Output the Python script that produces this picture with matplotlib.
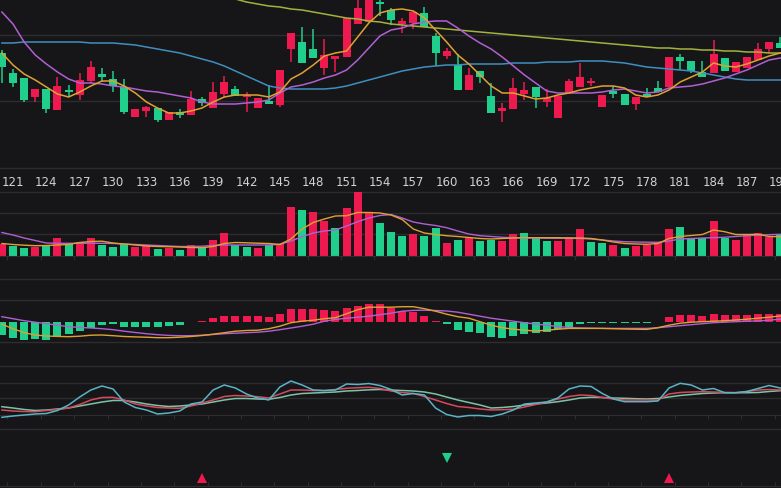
import numpy as np
import matplotlib
matplotlib.use('Agg')
import matplotlib.pyplot as plt

# candle index shown on the x axis (120 is half cut at the left edge)
idx = np.arange(120, 191)

# OHLC (arbitrary price units, no price axis shown)
opens = [115, 95, 90, 71, 79, 58, 78, 73, 87, 94,
         89, 81, 51, 57, 60, 48, 56, 53, 69, 60,
         74, 79, 71, 60, 67, 63, 119, 126, 119, 100,
         109, 111, 144, 146, 166, 158, 144, 145, 155, 132,
         112, 103, 78, 97, 72, 57, 59, 74, 81, 66,
         50, 75, 81, 85, 61, 77, 74, 64, 74, 80,
         81, 111, 107, 96, 95, 110, 96, 100, 108, 119,
         125]
closes = [101, 85, 68, 79, 59, 82, 76, 88, 101, 91,
          82, 56, 59, 61, 48, 56, 53, 69, 65, 76,
          86, 72, 73, 70, 64, 98, 135, 105, 110, 113,
          112, 150, 160, 173, 164, 148, 147, 156, 141, 115,
          117, 78, 93, 91, 55, 60, 80, 78, 71, 70,
          72, 87, 91, 87, 73, 74, 63, 71, 71, 76,
          111, 107, 97, 91, 114, 97, 106, 111, 119, 126,
          120]
highs = [118, 99, 90, 79, 79, 91, 83, 95, 107, 100,
         97, 89, 59, 62, 60, 56, 59, 77, 71, 86,
         92, 82, 76, 70, 83, 98, 135, 141, 139, 129,
         112, 150, 170, 178, 170, 160, 150, 156, 161, 135,
         120, 114, 100, 97, 85, 65, 90, 86, 81, 79,
         72, 89, 105, 90, 73, 82, 74, 71, 80, 87,
         111, 114, 107, 107, 128, 110, 106, 111, 125, 126,
         131]
lows = [85, 81, 66, 66, 55, 58, 71, 68, 85, 86,
        76, 54, 51, 51, 46, 48, 50, 53, 62, 60,
        71, 72, 56, 60, 64, 61, 106, 105, 110, 93,
        96, 111, 144, 146, 152, 143, 135, 139, 141, 102,
        109, 78, 78, 85, 55, 46, 59, 68, 60, 61,
        50, 75, 81, 82, 61, 70, 63, 58, 71, 76,
        81, 98, 95, 91, 95, 97, 96, 100, 108, 115,
        120]

ma5 = [115, 103, 94, 88, 81, 74, 71, 76, 82, 87,
       87, 82, 75, 66, 60, 55, 55, 57, 60, 66,
       71, 73, 73, 73, 71, 76, 89, 95, 103, 112,
       115, 117, 131, 145, 155, 158, 159, 157, 150, 138,
       126, 113, 104, 93, 82, 75, 75, 72, 69, 70,
       73, 75, 78, 80, 82, 82, 80, 73, 71, 73,
       78, 86, 91, 96, 105, 102, 101, 104, 108, 112,
       115]
ma10 = [156, 144, 126, 113, 104, 96, 89, 85, 85, 84,
        82, 81, 79, 77, 76, 74, 72, 70, 66, 64,
        64, 64, 65, 66, 68, 75, 81, 83, 86, 90,
        93, 98, 108, 120, 132, 138, 140, 144, 146, 147,
        147, 140, 132, 125, 119, 111, 102, 93, 85, 77,
        75, 75, 75, 75, 76, 78, 79, 77, 75, 76,
        80, 81, 82, 84, 87, 90, 94, 98, 103, 108,
        110]
ma30 = [125, 125, 126, 126, 126, 126, 126, 126, 125, 125,
        125, 124, 123, 121, 119, 117, 115, 112, 109, 106,
        102, 97, 92, 87, 82, 80, 79, 79, 79, 79,
        80, 82, 85, 88, 91, 94, 97, 99, 101, 102,
        103, 103, 104, 104, 104, 104, 105, 105, 105, 106,
        106, 106, 107, 107, 107, 106, 105, 103, 101, 100,
        99, 98, 97, 95, 93, 91, 89, 88, 88, 88,
        88]
# long average enters the view from above at candle 140
ma60_idx = np.arange(140, 191)
ma60 = [171, 169, 166, 164, 162, 161, 159, 158, 156, 154,
        152, 150, 149, 147, 146, 144, 143, 142, 141, 140,
        139, 138, 137, 136, 135, 134, 133, 132, 131, 130,
        129, 128, 127, 126, 125, 124, 123, 122, 121, 120,
        120, 119, 119, 118, 118, 117, 117, 116, 116, 115,
        115]

volume = [12, 10.3, 7.7, 9.3, 11, 17.7, 11.7, 13.7, 18.3, 11,
          9, 11.7, 9.3, 11, 7, 8.3, 5.7, 11, 8.3, 16,
          22.7, 11, 9.3, 8.3, 11, 11.7, 49.3, 46, 43.7, 35,
          27.7, 47.7, 63.7, 42.7, 32.7, 24.3, 20.3, 21.7, 20.3, 28.3,
          12.7, 16, 18.3, 15, 16, 15, 21.7, 22.7, 18.3, 15,
          15, 19.3, 27, 13.7, 12.7, 11, 8.3, 10.3, 11, 14.3,
          27, 29.3, 18.3, 17.7, 35, 18.3, 16, 21, 22.7, 19.3,
          21.7]
vol_up = "RGGRGRGRRGGGRRGRGRGRRGGRGRRGRRGRRRGGGRGGRGRGGRRGGGRRRGGRGRRRRGGGRGRRRRG"
vol_ma5 = [12.5, 11.5, 10.8, 10.3, 10.5, 11, 11.5, 13.5, 14.5, 14.8,
           13, 12, 11, 10, 9.5, 9.3, 9, 8.5, 8.3, 9.5,
           12.5, 13.5, 13.2, 12.8, 12.5, 11.5, 17, 27, 33.5, 37,
           40, 40.3, 43.5, 43.5, 43, 41, 36.5, 27, 23, 21.5,
           20.3, 19.5, 18.5, 17.5, 17, 17.5, 18, 18.3, 18.3, 18.3,
           18.3, 18, 18, 17.5, 16, 14, 12.5, 12, 11.7, 12.5,
           17.5, 19.5, 20.5, 21.5, 26, 24.3, 21.5, 21.5, 21.7, 19.5,
           19.3]
vol_ma10 = [23.5, 21, 18, 15.5, 13, 12.7, 12.7, 12.7, 12.7, 12.7,
            12.5, 12, 11.5, 11, 10.5, 10, 9.5, 9.5, 9.8, 10.5,
            11, 11, 11, 11, 11, 11.7, 15, 19.3, 23, 25,
            26, 30, 34.3, 38, 40.5, 41.5, 38, 34, 32, 30.5,
            28.3, 25, 22, 20.3, 19.5, 18.7, 18.3, 18, 18, 17.8,
            17.7, 17.7, 17.5, 17, 16, 15, 14.3, 14, 13.8, 13.7,
            15, 17, 17.5, 18, 18.3, 18.8, 19.5, 20.3, 20.8, 21.3,
            21.7]

macd_hist = [-13.3, -16, -18.3, -17.3, -18.3, -15, -12.7, -9.3, -6, -3.3,
             -2.7, -5, -5, -5, -5, -4, -3.3, -0.7, 0.5, 3.3,
             5.7, 6, 5.7, 5.7, 5, 7.3, 12.7, 12.7, 12.7, 11.7,
             11, 14, 16, 17.7, 17.3, 13.7, 10.7, 9.3, 6, 0.5,
             -2.7, -8.3, -10.7, -11.7, -15, -16.7, -14, -12.7, -11, -10,
             -7.3, -5, -2.7, -1.7, -1.7, -1.7, -1.7, -1.7, -1, -0.3,
             4.3, 6.7, 6.7, 6, 7.3, 6.7, 6.7, 6.7, 7.3, 7.7,
             7.3]
dif = [-2.5, -7, -11, -13.3, -14.3, -14.7, -15, -14.5, -13.5, -13.3,
       -14, -14.8, -15.2, -15.5, -16, -16, -15.5, -14.8, -13.8, -12.5,
       -11, -9.5, -8.8, -8.5, -7, -4.5, -1, 0.5, 1.5, 3,
       4, 8, 12, 14.5, 14.5, 14.5, 15, 15, 13, 10.5,
       7.5, 5, 3.5, 0, -3.5, -6, -7.5, -8.5, -9.3, -8.5,
       -7.5, -6.7, -6.7, -6.7, -6.7, -7, -7.3, -7.5, -7.7, -6,
       -3.5, -1.5, -0.5, 0, 0.5, 1, 1.7, 2.5, 3.5, 4.5,
       5.7]
dea = [5, 3, 1, -0.5, -2, -3.5, -5, -5.7, -6.3, -7,
       -8, -9.5, -10.8, -12, -13, -13.7, -14, -14, -13.5, -12.8,
       -12, -11.5, -11, -10.5, -9.5, -8, -6.3, -4.5, -2.5, 0.5,
       2.3, 3.5, 4.5, 5.5, 7, 8.5, 10.5, 11.3, 11.5, 11.2,
       10.7, 9.5, 7.5, 5.5, 3.5, 2, 0.5, -1, -2.3, -3.5,
       -4.8, -5.8, -6.3, -6.5, -6.7, -6.7, -6.7, -6.7, -6.7, -6,
       -5, -4, -3, -2, -1, -0.5, 0, 0.5, 0.8, 1.5,
       2.5]

kdj_k = [19, 18, 17.5, 17.3, 18.5, 19.5, 21, 24.5, 29, 31.5,
         31.7, 29, 25, 23, 21.5, 21, 20.7, 23, 26, 29,
         32.5, 33.5, 33, 32.3, 31, 35, 39, 39, 38.5, 38.3,
         39.5, 40.7, 41.3, 41.7, 40.5, 38, 36.5, 35.5, 32.5, 29,
         25.5, 22.5, 21.5, 20, 19, 19.3, 19.7, 22, 24.5, 27,
         30, 32.5, 34, 33.5, 31.5, 30, 29, 29, 29, 29,
         35, 36.5, 37, 37.3, 37, 36.5, 36.3, 37.5, 39, 39.5,
         39]
kdj_d = [22.3, 21, 19.5, 18.5, 19, 20, 21, 23, 25, 27,
         28.5, 28.5, 27, 25, 23.5, 22.5, 23, 24, 25, 27,
         29, 30.5, 30.5, 30, 29.7, 31.5, 34, 35.5, 36, 36.5,
         37, 38, 38.5, 39.2, 39.5, 39, 38.5, 38, 37, 35,
         32, 29, 26.5, 24, 21, 21.5, 22.5, 24, 25, 26,
         27.3, 29, 31, 31.7, 31.5, 31, 30.7, 30.3, 30, 30.5,
         32, 33.5, 34.5, 35.5, 36, 36.3, 36.3, 36.3, 36.5, 37.5,
         38.3]
kdj_j = [11.7, 13, 14, 15, 15.5, 18.5, 24, 32, 39, 43,
         40, 27, 21.5, 19, 15, 16, 18, 25, 27, 39,
         44, 41, 35, 31, 29, 42, 48, 44, 39, 38.5,
         39, 45, 44.5, 45.5, 43.5, 39.5, 34, 35.5, 34, 21,
         14.5, 12, 13.5, 13.5, 12.5, 15, 19, 25, 26, 27,
         31, 40, 43, 42.5, 35.5, 30, 27.3, 27.3, 27.3, 28,
         41, 45.7, 44, 39, 40.5, 36.3, 36.3, 37.5, 40.5, 43.5,
         41]

buy_idx = [138, 180]
sell_idx = [160]

tick_idx = idx[1::3]
tick_labels = [str(i) for i in tick_idx]

BG = '#161618'
GRID = '#2d2d30'
RED = '#ee1a4f'
GREEN = '#1fcf8b'
TXT = '#d2d2d2'

W, H = 781, 488
fig = plt.figure(figsize=(W / 100, H / 100), dpi=100, facecolor=BG)


def panel(top, bottom, ylim):
    ax = fig.add_axes([0, 1 - bottom / H, 1, (bottom - top) / H])
    ax.set_facecolor('none')
    ax.set_xlim(119.83, 190.07)
    ax.set_ylim(*ylim)
    for s in ax.spines.values():
        s.set_visible(False)
    ax.set_xticks([])
    ax.set_yticks([])
    return ax


def ticked(ax, direction='out'):
    ax.spines['bottom'].set_visible(True)
    ax.spines['bottom'].set_color(GRID)
    ax.set_xticks(tick_idx - 0.5)
    ax.tick_params(axis='x', direction=direction, length=3, color=GRID,
                   labelbottom=False)


o = np.array(opens)
c = np.array(closes)

# ---- price panel
ax1 = panel(0, 168, (0, 168))
for y in [0, 67, 133]:
    ax1.axhline(y, color=GRID, lw=1, clip_on=False, zorder=0)
up = c >= o
ccol = np.where(up, RED, GREEN)
ax1.vlines(idx, lows, highs, color=ccol, lw=1.1, zorder=2)
ax1.bar(idx, np.maximum(np.abs(c - o), 1.2), bottom=np.minimum(o, c),
        width=0.72, color=ccol, zorder=3)
ax1.plot(ma60_idx, ma60, color='#a3b23e', lw=1.1, zorder=4)
ax1.plot(idx, ma30, color='#3e8fc0', lw=1.1, zorder=4)
ax1.plot(idx, ma10, color='#b060d2', lw=1.1, zorder=4)
ax1.plot(idx, ma5, color='#e0a133', lw=1.1, zorder=4)
ax1.set_xticks(tick_idx)
ax1.set_xticklabels(tick_labels)
ax1.tick_params(axis='x', length=0, pad=6, labelsize=8.5, labelcolor=TXT)

# ---- volume panel
ax2 = panel(189, 256, (0, 67))
for y in [22, 43, 64]:
    ax2.axhline(y, color=GRID, lw=1, zorder=0)
ticked(ax2)
vcol = [RED if ch == 'R' else GREEN for ch in vol_up]
ax2.bar(idx, volume, width=0.72, color=vcol, zorder=2)
ax2.plot(idx, vol_ma10, color='#b060d2', lw=1.0, zorder=3)
ax2.plot(idx, vol_ma5, color='#e0a133', lw=1.0, zorder=3)

# ---- MACD panel
ax3 = panel(258, 342, (-20.3, 63.7))
for y in [21.7, 42.4]:
    ax3.axhline(y, color=GRID, lw=1, zorder=0)
h = np.array(macd_hist)
ax3.bar(idx, h, width=0.72, color=np.where(h >= 0, RED, GREEN), zorder=2)
ax3.plot(idx, dea, color='#b060d2', lw=1.0, zorder=3)
ax3.plot(idx, dif, color='#e0a133', lw=1.0, zorder=3)

# ---- KDJ panel
ax4 = panel(342, 415, (14, 87))
for y in [31, 46, 63]:
    ax4.axhline(y, color=GRID, lw=1, zorder=0)
ax4.axhline(87, color=GRID, lw=1, clip_on=False, zorder=0)
ticked(ax4)
ax4.plot(idx, kdj_d, color='#7cc4a6', lw=1.1, clip_on=False, zorder=2)
ax4.plot(idx, kdj_k, color='#d44a5e', lw=1.1, clip_on=False, zorder=3)
ax4.plot(idx, kdj_j, color='#58b4c6', lw=1.1, clip_on=False, zorder=4)

# ---- signal panel
ax5 = panel(415, 486, (0, 71))
ax5.axhline(57, color=GRID, lw=1, zorder=0)
ticked(ax5, direction='in')
ax5.plot(buy_idx, [8] * len(buy_idx), '^', color=RED, ms=7, mew=0,
         clip_on=False)
ax5.plot(sell_idx, [28] * len(sell_idx), 'v', color=GREEN, ms=7, mew=0,
         clip_on=False)

fig.savefig('out.png', dpi=100, facecolor=BG)
